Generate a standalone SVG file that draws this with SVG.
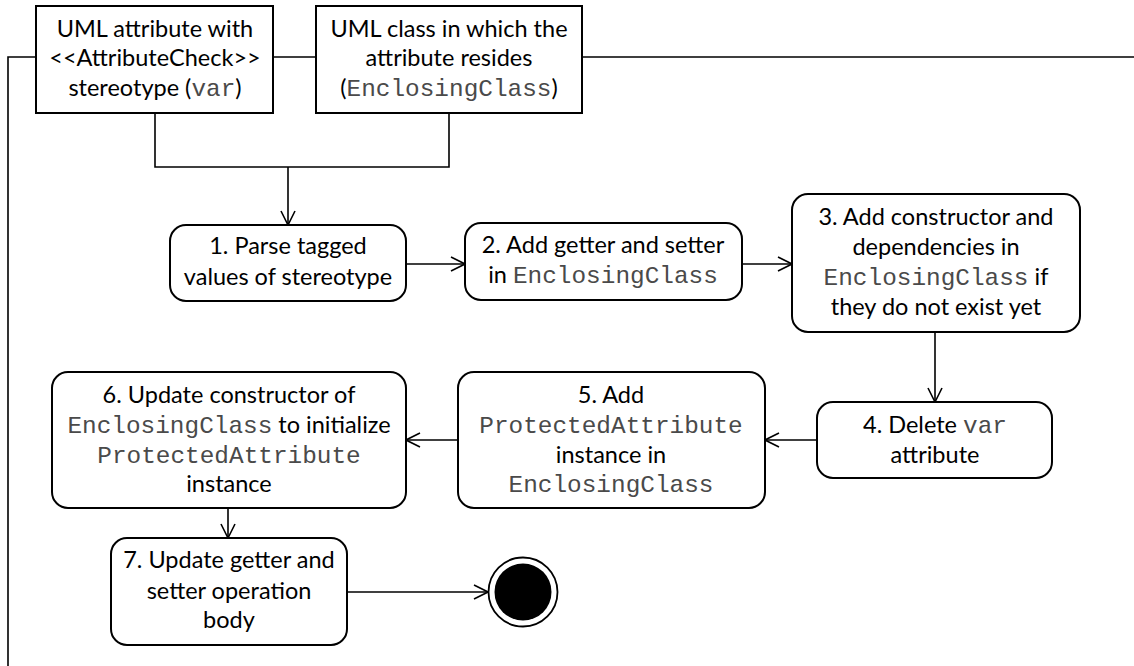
<svg xmlns="http://www.w3.org/2000/svg" width="1134" height="666" viewBox="0 0 1134 666">
  <defs>
    <style>
      .box { fill: #ffffff; stroke: #000000; stroke-width: 2; }
      .line { fill: none; stroke: #000000; stroke-width: 1.6; }
      .lbl { font-family: Lato, "Liberation Sans", sans-serif; font-size: 23.5px; fill: #000000; text-anchor: middle; }
      .code { font-family: "Liberation Mono", "DejaVu Sans Mono", monospace; font-size: 24.4px; fill: #4a4a4a; }
    </style>
    <marker id="open-arrow" viewBox="0 0 16 16" refX="15" refY="8" markerWidth="16" markerHeight="16" markerUnits="userSpaceOnUse" orient="auto">
      <path d="M1,1 L15,8 L1,15" fill="none" stroke="#000000" stroke-width="1.6"/>
    </marker>
  </defs>
  <rect width="1134" height="666" fill="#ffffff"/>

  <!-- activity frame -->
  <g id="frame">
    <path class="line" d="M8,666 L8,57 L36,57 M273,57 L316,57 M582,57 L1134,57"/>
  </g>

  <!-- control flow -->
  <g id="connectors">
    <path class="line" d="M155,113 L155,167 L449,167 L449,113"/>
    <path class="line" d="M288,167 L288,225" marker-end="url(#open-arrow)"/>
    <path class="line" d="M406,264 L465,264" marker-end="url(#open-arrow)"/>
    <path class="line" d="M742,264 L792,264" marker-end="url(#open-arrow)"/>
    <path class="line" d="M935,332 L935,402" marker-end="url(#open-arrow)"/>
    <path class="line" d="M817,440 L765,440" marker-end="url(#open-arrow)"/>
    <path class="line" d="M458,440 L406,440" marker-end="url(#open-arrow)"/>
    <path class="line" d="M228,508 L228,538" marker-end="url(#open-arrow)"/>
    <path class="line" d="M347,592 L488,592" marker-end="url(#open-arrow)"/>
  </g>

  <!-- input pins -->
  <g id="input-attribute">
    <rect class="box" x="36" y="6" width="237" height="107"/>
    <text class="lbl" x="155" y="37">UML attribute with</text>
    <text class="lbl" x="155" y="66">&lt;&lt;AttributeCheck&gt;&gt;</text>
    <text class="lbl" x="155" y="96">stereotype (<tspan class="code">var</tspan>)</text>
  </g>
  <g id="input-class">
    <rect class="box" x="316" y="6" width="266" height="107"/>
    <text class="lbl" x="449" y="37">UML class in which the</text>
    <text class="lbl" x="449" y="66">attribute resides</text>
    <text class="lbl" x="449" y="96">(<tspan class="code">EnclosingClass</tspan>)</text>
  </g>

  <!-- actions -->
  <g id="step1">
    <rect class="box" x="170" y="225" width="236" height="76" rx="16"/>
    <text class="lbl" x="288" y="254">1. Parse tagged</text>
    <text class="lbl" x="288" y="285">values of stereotype</text>
  </g>
  <g id="step2">
    <rect class="box" x="465" y="223" width="277" height="77" rx="16"/>
    <text class="lbl" x="603" y="253">2. Add getter and setter</text>
    <text class="lbl" x="603" y="283">in <tspan class="code">EnclosingClass</tspan></text>
  </g>
  <g id="step3">
    <rect class="box" x="792" y="194" width="288" height="138" rx="16"/>
    <text class="lbl" x="936" y="225">3. Add constructor and</text>
    <text class="lbl" x="936" y="255">dependencies in</text>
    <text class="lbl" x="936" y="285"><tspan class="code">EnclosingClass</tspan> if</text>
    <text class="lbl" x="936" y="315">they do not exist yet</text>
  </g>
  <g id="step4">
    <rect class="box" x="817" y="402" width="235" height="76" rx="16"/>
    <text class="lbl" x="935" y="433">4. Delete <tspan class="code">var</tspan></text>
    <text class="lbl" x="935" y="463">attribute</text>
  </g>
  <g id="step5">
    <rect class="box" x="458" y="372" width="307" height="136" rx="16"/>
    <text class="lbl" x="611" y="403">5. Add</text>
    <text class="lbl" x="611" y="433"><tspan class="code">ProtectedAttribute</tspan></text>
    <text class="lbl" x="611" y="463">instance in</text>
    <text class="lbl" x="611" y="492"><tspan class="code">EnclosingClass</tspan></text>
  </g>
  <g id="step6">
    <rect class="box" x="52" y="372" width="354" height="136" rx="16"/>
    <text class="lbl" x="229" y="403">6. Update constructor of</text>
    <text class="lbl" x="229" y="433"><tspan class="code">EnclosingClass</tspan> to initialize</text>
    <text class="lbl" x="229" y="463"><tspan class="code">ProtectedAttribute</tspan></text>
    <text class="lbl" x="229" y="492">instance</text>
  </g>
  <g id="step7">
    <rect class="box" x="111" y="538" width="236" height="107" rx="16"/>
    <text class="lbl" x="229" y="568">7. Update getter and</text>
    <text class="lbl" x="229" y="599">setter operation</text>
    <text class="lbl" x="229" y="628">body</text>
  </g>

  <!-- activity final -->
  <g id="final">
    <circle cx="523" cy="592" r="34.5" fill="#ffffff" stroke="#000000" stroke-width="1.8"/>
    <circle cx="523" cy="592" r="28.5" fill="#000000"/>
  </g>
</svg>
